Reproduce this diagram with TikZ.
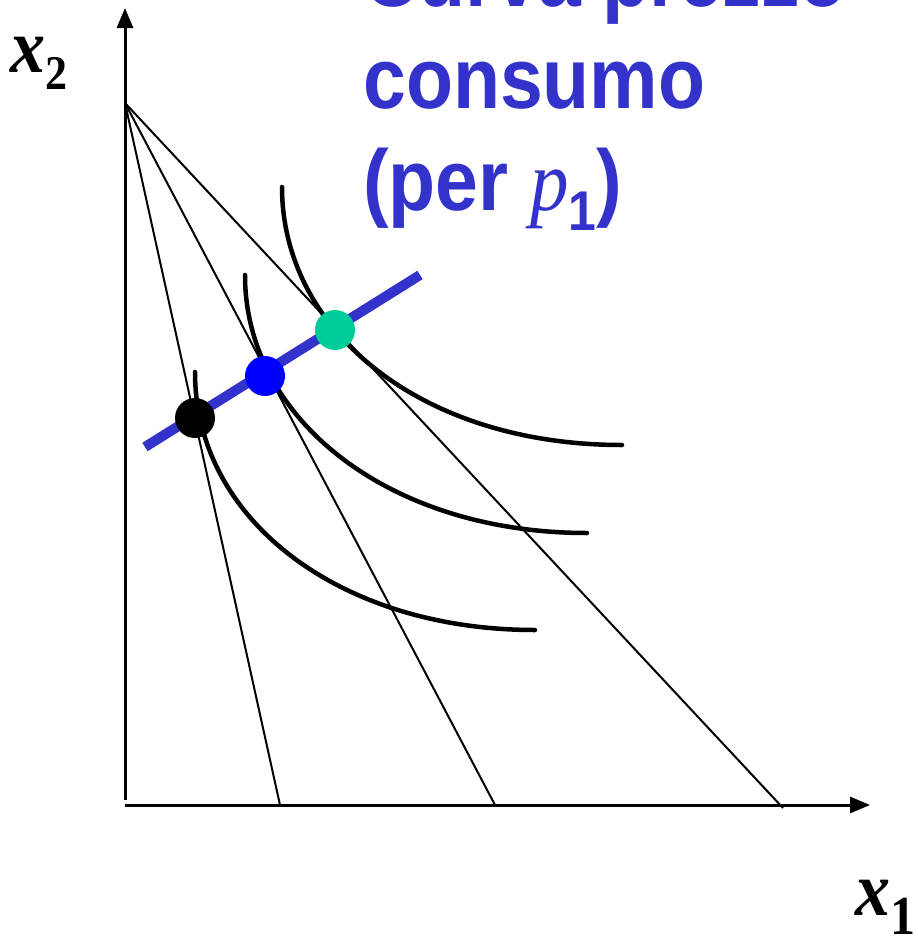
\documentclass[tikz,border=0pt]{standalone}
\usepackage{fontspec}
\setmainfont{Liberation Sans}
\newfontfamily\timesfont{Liberation Serif}
\usetikzlibrary{arrows.meta}
\definecolor{PccBlue}{HTML}{3333CC}
\definecolor{DotBlue}{HTML}{0000FF}
\definecolor{DotGreen}{HTML}{00CC99}

\begin{document}
\begin{tikzpicture}[x=1pt, y=-1pt,
		axis/.style={line width=3pt, -{Triangle[length=20pt,width=16pt]}},
		budget/.style={line width=2pt},
		indiff/.style={line width=4.5pt, line cap=round},
		optimum/.style={circle, inner sep=0pt, minimum size=40pt},
		heading/.style={anchor=base west, inner sep=0pt, text=PccBlue, font=\fontsize{77}{80}\selectfont\bfseries},
		axislabel/.style={anchor=base west, inner sep=0pt, font=\timesfont\fontsize{70}{70}\selectfont\bfseries\itshape}]
		\useasboundingbox (0,0) rectangle (918,937);
		
		% Axes
		\coordinate (O) at (125,805);
		\coordinate (Ybot) at (125,800);
		\coordinate (Ytop) at (125,8);
		\coordinate (Xend) at (870,805);
		\draw[axis] (Ybot) -- (Ytop);
		\draw[axis] (O) -- (Xend);
		
		% Budget lines
		\coordinate (M) at (125,103);
		\coordinate (B1) at (280,805);
		\coordinate (B2) at (495,805);
		\coordinate (B3) at (783,808);
		\foreach \b in {B1,B2,B3}
			\draw[budget] (M) -- (\b);
		
		% Indifference curves
		\draw[indiff] (195,372) .. controls (195,520) and (340,630) .. (535,630);
		\draw[indiff] (245,275) .. controls (245,420) and (390,533) .. (587,533);
		\draw[indiff] (282,187) .. controls (282,330) and (420,445) .. (622,445);
		
		% Price consumption curve
		\coordinate (P1) at (145,447);
		\coordinate (P2) at (420,275);
		\draw[PccBlue, line width=10pt] (P1) -- (P2);
		
		% Optima
		\node[optimum, fill=black] (E1) at (195,418) {};
		\node[optimum, fill=DotBlue] (E2) at (265,376) {};
		\node[optimum, fill=DotGreen] (E3) at (335,330) {};
		
		% Labels
		\node[heading] (line1) at (363,6) {\scalebox{1}[1.12]{Curva prezzo}};
		\node[heading] (line2) at (363,108) {\scalebox{1}[1.12]{consumo}};
		\node[heading] (line3) at (363,210) {\scalebox{1}[1.12]{(per {\timesfont\mdseries\itshape p}\raisebox{-18pt}{\fontsize{50}{50}\selectfont 1})}};
		\node[axislabel] (xtwo) at (10,72) {\scalebox{1}[1.1]{x\raisebox{-16pt}{\fontsize{44}{44}\selectfont\upshape 2}}};
		\node[axislabel] (xone) at (855,915) {\scalebox{1}[1.1]{x\raisebox{-18pt}{\fontsize{50}{50}\selectfont\upshape 1}}};
	\end{tikzpicture}
\end{document}
